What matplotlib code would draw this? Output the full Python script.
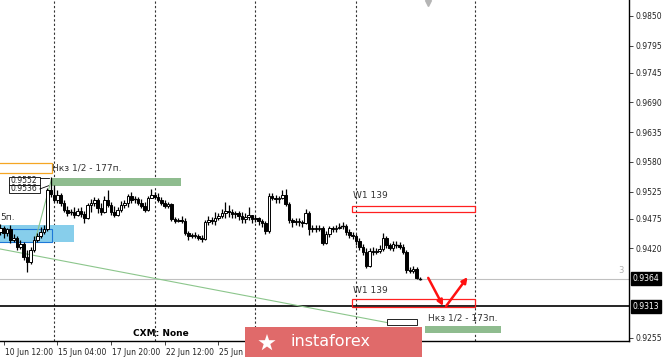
import matplotlib
matplotlib.use("Agg")
import matplotlib.pyplot as plt
from matplotlib.patches import Rectangle, Polygon
from matplotlib.transforms import blended_transform_factory
import matplotlib.transforms as mtrans
import numpy as np

plt.rcParams['font.family'] = ['DejaVu Sans']

# ---------------- data (H4 bars, index 0 = 15 Jun 00:00) ----------------
bar_pos = list(range(-16, 110))
opens = [0.9451,0.9458,0.9449,0.9455,0.9436,0.9440,0.9423,0.9428,0.9404,0.9395,0.9417,0.9436,0.9443,0.9451,0.9456,0.9528,
         0.9519,0.9510,0.9519,0.9504,0.9491,0.9486,0.9487,0.9482,0.9489,0.9484,0.9476,0.9500,0.9504,0.9510,0.9495,0.9487,
         0.9510,0.9500,0.9487,0.9482,0.9491,0.9500,0.9504,0.9517,0.9510,0.9511,0.9504,0.9498,0.9491,0.9513,0.9519,0.9515,
         0.9510,0.9504,0.9498,0.9502,0.9474,0.9471,0.9473,0.9471,0.9449,0.9443,0.9445,0.9443,0.9440,0.9438,0.9469,0.9473,
         0.9471,0.9476,0.9480,0.9486,0.9489,0.9487,0.9484,0.9486,0.9480,0.9474,0.9478,0.9482,0.9474,0.9476,0.9471,0.9467,
         0.9453,0.9517,0.9513,0.9511,0.9513,0.9519,0.9502,0.9473,0.9469,0.9471,0.9469,0.9467,0.9486,0.9455,0.9458,0.9456,
         0.9458,0.9430,0.9447,0.9458,0.9455,0.9458,0.9460,0.9461,0.9451,0.9445,0.9443,0.9434,0.9423,0.9413,0.9388,0.9415,
         0.9413,0.9415,0.9419,0.9440,0.9427,0.9421,0.9428,0.9427,0.9423,0.9413,0.9380,0.9378,0.9382,0.9365]
highs = [0.9465,0.9461,0.9458,0.9463,0.9447,0.9443,0.9436,0.9432,0.9417,0.9423,0.9443,0.9449,0.9460,0.9463,0.9532,0.9552,
         0.9537,0.9528,0.9523,0.9510,0.9498,0.9493,0.9496,0.9495,0.9496,0.9489,0.9504,0.9511,0.9515,0.9513,0.9504,0.9517,
         0.9528,0.9506,0.9498,0.9496,0.9508,0.9510,0.9521,0.9524,0.9517,0.9515,0.9511,0.9506,0.9517,0.9530,0.9524,0.9523,
         0.9515,0.9510,0.9506,0.9504,0.9478,0.9476,0.9480,0.9476,0.9453,0.9449,0.9451,0.9447,0.9445,0.9473,0.9480,0.9478,
         0.9487,0.9486,0.9493,0.9506,0.9500,0.9493,0.9489,0.9489,0.9487,0.9486,0.9496,0.9482,0.9482,0.9478,0.9474,0.9471,
         0.9523,0.9523,0.9519,0.9517,0.9528,0.9530,0.9506,0.9476,0.9476,0.9476,0.9473,0.9493,0.9489,0.9463,0.9463,0.9463,
         0.9461,0.9453,0.9461,0.9461,0.9463,0.9467,0.9469,0.9465,0.9455,0.9451,0.9447,0.9440,0.9428,0.9421,0.9421,0.9423,
         0.9421,0.9427,0.9449,0.9443,0.9430,0.9434,0.9434,0.9432,0.9428,0.9417,0.9386,0.9388,0.9386,0.9367]
lows = [0.9445,0.9440,0.9443,0.9430,0.9432,0.9417,0.9419,0.9399,0.9376,0.9391,0.9413,0.9432,0.9440,0.9447,0.9453,0.9515,
        0.9506,0.9504,0.9498,0.9487,0.9480,0.9482,0.9476,0.9480,0.9478,0.9467,0.9474,0.9487,0.9498,0.9486,0.9482,0.9486,
        0.9496,0.9482,0.9478,0.9480,0.9487,0.9495,0.9496,0.9504,0.9504,0.9500,0.9495,0.9487,0.9489,0.9513,0.9511,0.9506,
        0.9500,0.9495,0.9495,0.9471,0.9467,0.9469,0.9467,0.9445,0.9436,0.9440,0.9440,0.9436,0.9432,0.9436,0.9463,0.9465,
        0.9463,0.9473,0.9476,0.9476,0.9478,0.9476,0.9476,0.9473,0.9467,0.9467,0.9473,0.9467,0.9469,0.9463,0.9460,0.9447,
        0.9449,0.9510,0.9504,0.9504,0.9511,0.9498,0.9467,0.9460,0.9463,0.9461,0.9460,0.9465,0.9445,0.9451,0.9451,0.9453,
        0.9427,0.9428,0.9441,0.9451,0.9451,0.9455,0.9456,0.9445,0.9440,0.9438,0.9427,0.9417,0.9408,0.9384,0.9386,0.9408,
        0.9410,0.9412,0.9415,0.9421,0.9417,0.9415,0.9421,0.9419,0.9410,0.9375,0.9375,0.9375,0.9364,0.9362]
closes = [0.9458,0.9449,0.9455,0.9436,0.9440,0.9423,0.9428,0.9404,0.9395,0.9417,0.9436,0.9443,0.9451,0.9456,0.9528,0.9521,
          0.9510,0.9519,0.9504,0.9491,0.9486,0.9487,0.9482,0.9489,0.9484,0.9476,0.9500,0.9504,0.9510,0.9495,0.9487,0.9510,
          0.9500,0.9487,0.9482,0.9491,0.9500,0.9504,0.9517,0.9510,0.9511,0.9504,0.9498,0.9491,0.9513,0.9519,0.9515,0.9510,
          0.9504,0.9498,0.9502,0.9474,0.9471,0.9473,0.9471,0.9449,0.9443,0.9445,0.9443,0.9440,0.9438,0.9469,0.9473,0.9471,
          0.9476,0.9480,0.9486,0.9489,0.9487,0.9484,0.9486,0.9480,0.9474,0.9478,0.9482,0.9474,0.9476,0.9471,0.9467,0.9453,
          0.9517,0.9513,0.9511,0.9513,0.9519,0.9502,0.9473,0.9469,0.9471,0.9469,0.9467,0.9486,0.9455,0.9458,0.9456,0.9458,
          0.9430,0.9447,0.9458,0.9455,0.9458,0.9460,0.9461,0.9451,0.9445,0.9443,0.9434,0.9423,0.9413,0.9388,0.9415,0.9413,
          0.9415,0.9419,0.9440,0.9427,0.9421,0.9428,0.9427,0.9423,0.9413,0.9380,0.9378,0.9382,0.9365,0.9364]

y_ticks = [0.9850, 0.9795, 0.9745, 0.9690, 0.9635, 0.9580, 0.9525, 0.9475, 0.9420, 0.9255]
price_now = 0.9364
price_level = 0.9313
time_pos = [-15, 1, 17, 33, 49]
time_labels = ["10 Jun 12:00", "15 Jun 04:00", "17 Jun 20:00", "22 Jun 12:00", "25 Jun 04:00"]
week_lines = [0, 30, 60, 90, 125.5]

# ---------------- figure ----------------
W, H = 665, 357
fig = plt.figure(figsize=(W / 100, H / 100), dpi=100)
ax = fig.add_axes([0, 16 / H, 629 / W, 341 / H])
ax.set_xlim(-16.09, 171.3)
ax.set_ylim(0.92487, 0.98796)

for s in ['left', 'top']:
    ax.spines[s].set_visible(False)
ax.spines['right'].set_linewidth(1.0)
ax.spines['bottom'].set_linewidth(1.0)

ax.yaxis.tick_right()
ax.set_yticks(y_ticks)
ax.set_yticklabels([f"{v:.4f}" for v in y_ticks])
ax.tick_params(axis='y', length=3, width=0.6, labelsize=5.5, pad=2, colors='#222222')
ax.set_xticks(time_pos)
ax.set_xticklabels(time_labels, ha='left')
ax.tick_params(axis='x', length=3, width=0.6, labelsize=5.5, pad=2, colors='#222222')
offs = mtrans.ScaledTranslation(1 / 100, 0, fig.dpi_scale_trans)
for lab in ax.get_xticklabels():
    lab.set_transform(lab.get_transform() + offs)

# weekly separators
for wl in week_lines:
    ax.axvline(wl, color='#333333', lw=0.8, ls=(0, (2, 2)), zorder=1)

# horizontal levels
ax.axhline(price_now, color='#c0c0c0', lw=0.8, zorder=1)
ax.axhline(price_level, color='black', lw=1.2, zorder=1)

# rectangles / zones
ax.add_patch(Rectangle((-17, 0.9560), 16.4, 0.0018, fill=False, ec='#f5a623', lw=0.9, zorder=2))
ax.add_patch(Rectangle((-0.6, 0.9536), 38.4, 0.0014, fc='#8fbc8f', ec='none', zorder=2))
ax.add_patch(Rectangle((-17, 0.9432), 23.0, 0.0031, fc='#87ceeb', ec='none', zorder=2))
ax.add_patch(Rectangle((-17, 0.9432), 16.4, 0.0024, fill=False, ec='#1e78d8', lw=0.8, zorder=2))
ax.add_patch(Rectangle((88.8, 0.9488), 36.6, 0.0011, fill=False, ec='#ff2020', lw=0.9, zorder=2))
ax.add_patch(Rectangle((88.8, 0.9312), 36.6, 0.0015, fill=False, ec='#ff2020', lw=0.9, zorder=2))
ax.add_patch(Rectangle((110.5, 0.9263), 22.7, 0.0013, fc='#8fbc8f', ec='none', zorder=2))

# green trend lines
ax.plot([-16.09, 101.6], [0.9419, 0.9280], color='#8cc68c', lw=0.8, zorder=2)
ax.plot([-5.4, -0.8], [0.9440, 0.9547], color='#8cc68c', lw=0.8, zorder=2)

# price label boxes
for yb, txt in [(0.9538, "0.9552"), (0.9523, "0.9536")]:
    ax.add_patch(Rectangle((-13.4, yb), 9.2, 0.0014, fc='white', ec='black', lw=0.6, zorder=4))
    ax.text(-13.0, yb + 0.0007, txt, fontsize=5.5, va='center', ha='left', zorder=5, color='#222222')
ax.plot([-4.2, -1.6], [0.9550, 0.9550], color='black', lw=0.6, zorder=4)
ax.plot([-4.2, -1.6], [0.9530, 0.9536], color='black', lw=0.6, zorder=4)
ax.add_patch(Rectangle((99.2, 0.9279), 9.0, 0.0010, fc='white', ec='black', lw=0.6, zorder=4))

# candles
bw = 0.78
for i, o, h, l, c in zip(bar_pos, opens, highs, lows, closes):
    ax.plot([i, i], [l, h], color='black', lw=0.9, zorder=3, solid_capstyle='butt')
    bottom = min(o, c)
    height = abs(c - o)
    if height < 0.00012:
        ax.plot([i - bw / 2, i + bw / 2], [c, c], color='black', lw=1.0, zorder=3)
    else:
        fc = 'white' if c > o else 'black'
        ax.add_patch(Rectangle((i - bw / 2, bottom), bw, height, fc=fc, ec='black', lw=0.7, zorder=3))

# red arrows (V)
ax.annotate('', xy=(116.3, 0.9309), xytext=(111.1, 0.9370),
            arrowprops=dict(arrowstyle='-|>', color='#ff1010', lw=1.8, mutation_scale=8), zorder=6)
ax.annotate('', xy=(123.7, 0.9371), xytext=(116.3, 0.9309),
            arrowprops=dict(arrowstyle='-|>', color='#ff1010', lw=1.8, mutation_scale=8), zorder=6)

# texts
ax.text(-0.6, 0.9568, "Нкз 1/2 - 177п.", fontsize=6.5, color='#333333', va='center', ha='left', zorder=5)
ax.text(-16.09, 0.9478, "5п.", fontsize=6.5, color='#333333', va='center', ha='left', zorder=5)
ax.text(89.1, 0.9517, "W1 139", fontsize=6.5, color='#333333', va='center', ha='left', zorder=5)
ax.text(89.1, 0.9343, "W1 139", fontsize=6.5, color='#333333', va='center', ha='left', zorder=5)
ax.text(111.4, 0.9291, "Нкз 1/2 - 173п.", fontsize=6.5, color='#333333', va='center', ha='left', zorder=5)
ax.text(31.9, 0.9262, "CXM: None", fontsize=6.5, fontweight='bold', color='black', va='center', ha='center', zorder=5)
ax.text(169.0, 0.9380, "3", fontsize=6, color='#b0b0b0', va='center', ha='center', zorder=5)
ax.plot([111.4], [0.98745], marker='v', color='#b5b5b5', ms=5, zorder=5)

# highlighted price labels on the axis
tr = blended_transform_factory(ax.transAxes, ax.transData)
for pv in [price_now, price_level]:
    ax.text(1.006, pv, f"{pv:.4f}", transform=tr, fontsize=5.5, color='white', va='center', ha='left',
            bbox=dict(boxstyle='square,pad=0.25', fc='black', ec='black'), clip_on=False, zorder=6)

# watermark
fig.patches.append(Rectangle((245 / W, 0), 177 / W, 30 / H, transform=fig.transFigure,
                             fc='#e06a6a', ec='none', zorder=10))
cx, cy = 267 / W, 14 / H
star = []
for k in range(10):
    r = 9 if k % 2 == 0 else 3.5
    a = np.pi / 2 + k * np.pi / 5
    star.append((cx + r * np.cos(a) / W, cy + r * np.sin(a) / H))
fig.patches.append(Polygon(star, closed=True, transform=fig.transFigure, fc='white', ec='none', zorder=11))
fig.text(290 / W, 15 / H, "instaforex", fontsize=11.5, color='white', va='center', ha='left', zorder=12)

fig.savefig("out.png", dpi=100, facecolor='white')
